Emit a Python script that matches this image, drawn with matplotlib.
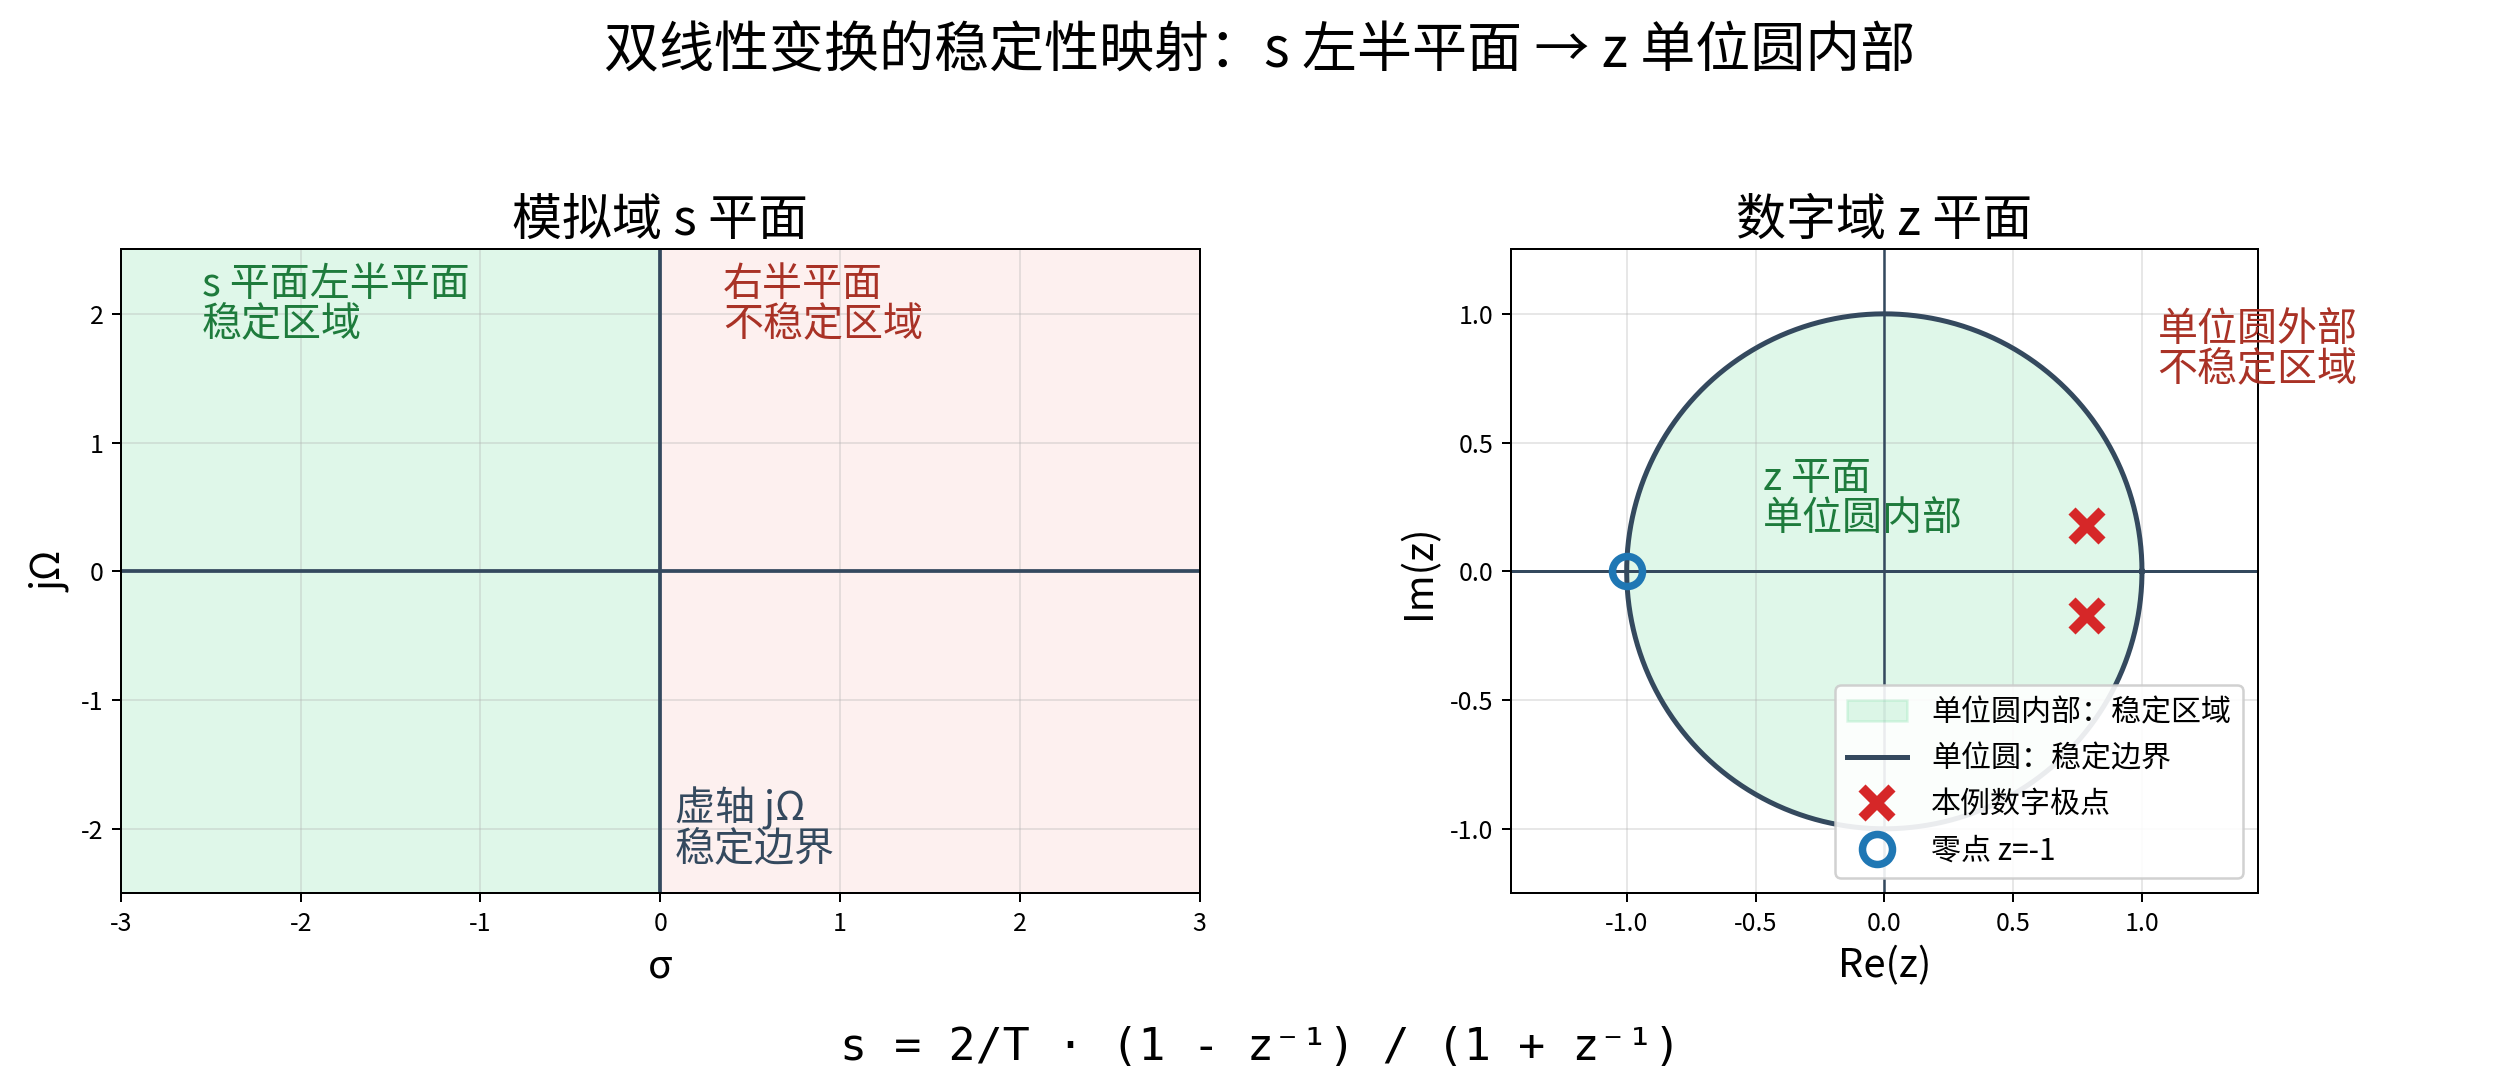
import numpy as np
import matplotlib
matplotlib.use("Agg")
import matplotlib.pyplot as plt
from matplotlib.patches import Circle

plt.rcParams['font.family'] = ['Noto Sans CJK SC', 'DejaVu Sans']
plt.rcParams['axes.unicode_minus'] = False

# s 平面区域
s_xlim = [-3, 3]
s_ylim = [-2.5, 2.5]
s_xticks = [-3, -2, -1, 0, 1, 2, 3]
s_yticks = [-2, -1, 0, 1, 2]
left_half = [-3, 0]
right_half = [0, 3]

# z 平面: 极点 / 零点
pole_re = [0.786, 0.786]
pole_im = [0.175, -0.175]
zero_re = [-1.0]
zero_im = [0.0]
z_xlim = [-1.45, 1.45]
z_ylim = [-1.25, 1.25]
z_ticks = [-1.0, -0.5, 0.0, 0.5, 1.0]

green_txt = '#1e7b3c'
red_txt = '#a93226'
axis_c = '#34495e'

fig = plt.figure(figsize=(14, 6), dpi=180)
ax1 = fig.add_axes([0.048, 0.173, 0.428, 0.596])
ax2 = fig.add_axes([0.5995, 0.173, 0.2965, 0.596])

# ---- 模拟域 s 平面 ----
ax1.axvspan(left_half[0], left_half[1], color='#2ecc71', alpha=0.15, lw=0)
ax1.axvspan(right_half[0], right_half[1], color='#e74c3c', alpha=0.08, lw=0)
ax1.axhline(0, color=axis_c, lw=1.5)
ax1.axvline(0, color=axis_c, lw=1.5)
ax1.set_xlim(s_xlim)
ax1.set_ylim(s_ylim)
ax1.set_xticks(s_xticks)
ax1.set_yticks(s_yticks)
ax1.grid(True, alpha=0.3)
ax1.set_title('模拟域 s 平面', fontsize=20)
ax1.set_xlabel('σ', fontsize=16)
ax1.set_ylabel('jΩ', fontsize=16)
ax1.tick_params(labelsize=10)
ax1.text(-2.55, 2.07, 's 平面左半平面\n稳定区域', color=green_txt, fontsize=16,
         va='center', ha='left', linespacing=1.0)
ax1.text(0.35, 2.07, '右半平面\n不稳定区域', color=red_txt, fontsize=16,
         va='center', ha='left', linespacing=1.0)
ax1.text(0.08, -2.0, '虚轴 jΩ\n稳定边界', color=axis_c, fontsize=16,
         va='center', ha='left', linespacing=1.0)

# ---- 数字域 z 平面 ----
inside = Circle((0, 0), 1, facecolor='#2ecc71', edgecolor='#2ecc71', alpha=0.15,
                label='单位圆内部：稳定区域')
ax2.add_patch(inside)
theta = np.linspace(0, 2 * np.pi, 400)
ax2.plot(np.cos(theta), np.sin(theta), color=axis_c, lw=2, label='单位圆：稳定边界')
ax2.axhline(0, color=axis_c, lw=1.2)
ax2.axvline(0, color=axis_c, lw=1.0)
ax2.plot(pole_re, pole_im, 'x', color='#d62728', ms=12, mew=4, ls='none',
         label='本例数字极点')
ax2.plot(zero_re, zero_im, 'o', mfc='none', mec='#1f77b4', ms=12, mew=3, ls='none',
         label='零点 z=-1')
ax2.set_xlim(z_xlim)
ax2.set_ylim(z_ylim)
ax2.set_xticks(z_ticks)
ax2.set_yticks(z_ticks)
ax2.grid(True, alpha=0.3)
ax2.set_title('数字域 z 平面', fontsize=20)
ax2.set_xlabel('Re(z)', fontsize=16)
ax2.set_ylabel('Im(z)', fontsize=16)
ax2.tick_params(labelsize=10)
ax2.text(-0.47, 0.28, 'z 平面\n单位圆内部', color=green_txt, fontsize=16,
         va='center', ha='left', linespacing=1.0)
ax2.text(1.06, 0.86, '单位圆外部\n不稳定区域', color=red_txt, fontsize=16,
         va='center', ha='left', linespacing=1.0, clip_on=False)
ax2.legend(loc='lower right', fontsize=12, framealpha=0.9)

fig.suptitle('双线性变换的稳定性映射：s 左半平面 → z 单位圆内部', fontsize=22, y=0.952, va='center')
fig.text(0.5, 0.03, 's = 2/T · (1 - z⁻¹) / (1 + z⁻¹)', family='DejaVu Sans Mono',
         fontsize=18, ha='center', va='center')

fig.savefig('out.png', dpi=180)
